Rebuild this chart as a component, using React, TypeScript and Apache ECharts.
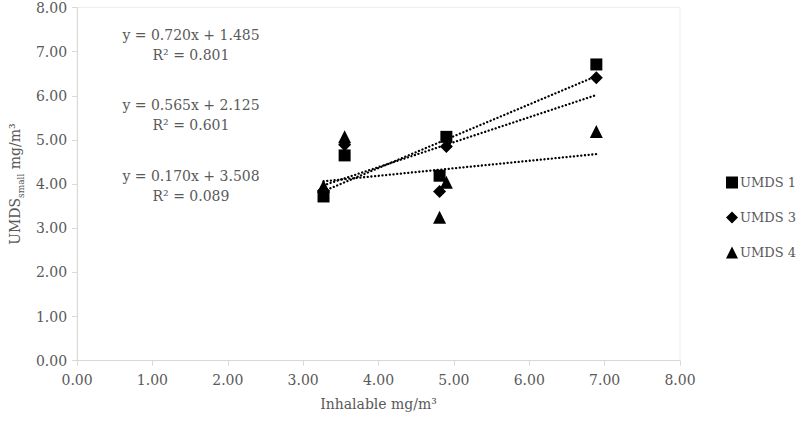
import React, { useEffect, useRef } from "react";
import * as echarts from "echarts";

const inhalable = [3.27, 3.55, 4.81, 4.9, 6.89];
const umds1 = [3.72, 4.65, 4.19, 5.07, 6.71];
const umds3 = [3.85, 4.89, 3.83, 4.85, 6.41];
const umds4 = [3.95, 5.07, 3.25, 4.04, 5.19];
const seriesNames = ["UMDS 1", "UMDS 3", "UMDS 4"];
const slopes = [0.72, 0.565, 0.17];
const intercepts = [1.485, 2.125, 3.508];
const equations = ["y = 0.720x + 1.485", "y = 0.565x + 2.125", "y = 0.170x + 3.508"];
const r2Labels = ["R² = 0.801", "R² = 0.601", "R² = 0.089"];
const xTicks = [0, 1, 2, 3, 4, 5, 6, 7, 8];

const FONT = "DejaVu Serif";
const GRAY = "#595959";

export default function App() {
  const ref = useRef<HTMLDivElement>(null);
  useEffect(() => {
    if (!ref.current) return;
    const chart = echarts.init(ref.current, null, { renderer: "svg" });
    const ys = [umds1, umds3, umds4];
    const symbols = ["rect", "diamond", "triangle"];
    const sizes = [12, 13, 13];
    const xmin = Math.min(...inhalable);
    const xmax = Math.max(...inhalable);
    const scatter = ys.map((arr, i) => ({
      name: seriesNames[i],
      type: "scatter",
      symbol: symbols[i],
      symbolSize: sizes[i],
      itemStyle: { color: "#000", opacity: 1 },
      data: inhalable.map((x, j) => [x, arr[j]]),
      z: 3,
    }));
    const trends = slopes.map((m, i) => ({
      name: "trend" + i,
      type: "line",
      symbol: "none",
      lineStyle: { color: "#000", width: 2.3, type: [0.1, 3.6], cap: "round" },
      data: [
        [xmin, m * xmin + intercepts[i]],
        [xmax, m * xmax + intercepts[i]],
      ],
      z: 2,
    }));
    const eqY = [35, 105, 176];
    const graphics: any[] = [];
    equations.forEach((eq, i) => {
      graphics.push({
        type: "text",
        x: 191,
        y: eqY[i],
        style: { text: eq, fill: GRAY, font: `14px '${FONT}'`, textAlign: "center", textVerticalAlign: "middle" },
      });
      graphics.push({
        type: "text",
        x: 191,
        y: eqY[i] + 20,
        style: { text: r2Labels[i], fill: GRAY, font: `14px '${FONT}'`, textAlign: "center", textVerticalAlign: "middle" },
      });
    });
    chart.setOption({
      animation: false,
      backgroundColor: "#fff",
      textStyle: { fontFamily: FONT },
      grid: { left: 73.5, right: 120, top: 7.5, bottom: 61.3, show: true, borderColor: "#f1efe3", borderWidth: 1 },
      xAxis: {
        type: "value",
        min: xTicks[0],
        max: xTicks[xTicks.length - 1],
        interval: 1,
        name: "Inhalable mg/m³",
        nameLocation: "middle",
        nameGap: 36,
        nameTextStyle: { color: GRAY, fontSize: 14, fontFamily: FONT },
        axisLine: { lineStyle: { color: "#d9d9d9" } },
        axisTick: { show: true, length: 5, lineStyle: { color: "#d9d9d9" } },
        axisLabel: { color: GRAY, fontSize: 14, fontFamily: FONT, margin: 12, formatter: (v: number) => v.toFixed(2) },
        splitLine: { show: false },
      },
      yAxis: {
        type: "value",
        min: 0,
        max: 8,
        interval: 1,
        name: "{a|UMDS}{s|small}{a| mg/m³}",
        nameLocation: "middle",
        nameGap: 50,
        nameTextStyle: {
          color: GRAY,
          fontFamily: FONT,
          rich: {
            a: { fontSize: 14, color: GRAY, fontFamily: FONT, lineHeight: 20, verticalAlign: "middle" },
            s: { fontSize: 9, color: GRAY, fontFamily: FONT, lineHeight: 20, verticalAlign: "bottom", padding: [6, 0, 0, 0] },
          },
        },
        axisLine: { show: true, lineStyle: { color: "#d9d9d9" } },
        axisTick: { show: true, length: 5, lineStyle: { color: "#d9d9d9" } },
        axisLabel: { color: GRAY, fontSize: 14, fontFamily: FONT, margin: 10, formatter: (v: number) => v.toFixed(2) },
        splitLine: { show: false },
      },
      legend: {
        data: seriesNames,
        orient: "vertical",
        left: 721,
        top: 171,
        itemGap: 22,
        itemWidth: 12,
        itemHeight: 12,
        itemStyle: { opacity: 1 },
        textStyle: { color: GRAY, fontSize: 13, fontFamily: FONT, padding: [0, 0, 0, -3] },
      },
      graphic: graphics,
      series: [...scatter, ...trends],
    });
    return () => chart.dispose();
  }, []);
  return (
    <div
      ref={ref}
      style={{ position: "absolute", left: 0, top: 0, width: 800, height: 422 }}
    />
  );
}
